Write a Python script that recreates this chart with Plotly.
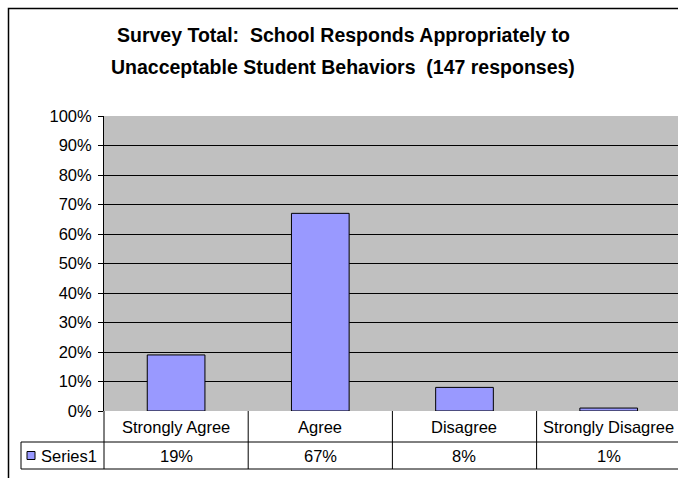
import plotly.graph_objects as go

categories = ["Strongly Agree", "Agree", "Disagree", "Strongly Disagree"]
values = [0.19, 0.67, 0.08, 0.01]
series_name = "Series1"
tick_vals = [0, 0.1, 0.2, 0.3, 0.4, 0.5, 0.6, 0.7, 0.8, 0.9, 1.0]
tick_text = ["0%", "10%", "20%", "30%", "40%", "50%", "60%", "70%", "80%", "90%", "100%"]
title_lines = ["Survey Total:  School Responds Appropriately to",
               "Unacceptable Student Behaviors  (147 responses)"]

W, H = 678, 478
L, R, T, B = 104, 0, 116, H - 411
PW = W - L - R
PH = H - T - B
COL_PX = 144.2  # width of one category column in pixels (plot area runs past the edge)
FONT = "Arial, 'Liberation Sans', sans-serif"
FS = 16.5


def px(x):
    return (x - L) / PW


def py(y):
    return (H - B - y) / PH


fig = go.Figure()
fig.add_trace(go.Bar(
    x=categories, y=values, name=series_name, width=0.4,
    marker=dict(color="#9999FF", line=dict(color="black", width=1)),
    showlegend=False,
))

shapes = []
annotations = []

# outer chart frame (right and bottom edges lie outside the visible page)
shapes.append(dict(type="rect", xref="paper", yref="paper",
                   x0=px(8.5), x1=px(720), y0=py(520), y1=py(8.5),
                   line=dict(color="black", width=1.5), layer="below"))

# data table geometry
n = len(categories)
bounds = [104 + i * COL_PX for i in range(n + 1)]
row1_top, row1_bot, row2_bot = 411, 442, 469
table_left = 21
line = dict(color="black", width=1)
for xb in bounds[:-1]:
    shapes.append(dict(type="line", xref="paper", yref="paper",
                       x0=px(xb), x1=px(xb), y0=py(row1_top), y1=py(row2_bot), line=line))
shapes.append(dict(type="line", xref="paper", yref="paper",
                   x0=px(table_left), x1=px(table_left), y0=py(row1_bot), y1=py(row2_bot), line=line))
for yb in (row1_bot, row2_bot):
    shapes.append(dict(type="line", xref="paper", yref="paper",
                       x0=px(table_left), x1=px(720), y0=py(yb), y1=py(yb), line=line))
# legend key
shapes.append(dict(type="rect", xref="paper", yref="paper",
                   x0=px(27), x1=px(35), y0=py(459.5), y1=py(451.5),
                   fillcolor="#9999FF", line=dict(color="black", width=1)))

for i, (c, v) in enumerate(zip(categories, values)):
    cx = (bounds[i] + bounds[i + 1]) / 2
    annotations.append(dict(xref="paper", yref="paper", x=px(cx), y=py((row1_top + row1_bot) / 2),
                            text=c, showarrow=False, xanchor="center", yanchor="middle",
                            font=dict(family=FONT, size=FS, color="black")))
    annotations.append(dict(xref="paper", yref="paper", x=px(cx), y=py((row1_bot + row2_bot) / 2),
                            text=f"{round(v * 100)}%", showarrow=False, xanchor="center", yanchor="middle",
                            font=dict(family=FONT, size=FS, color="black")))
annotations.append(dict(xref="paper", yref="paper", x=px(39), y=py((row1_bot + row2_bot) / 2),
                        text=series_name, showarrow=False, xanchor="left", yanchor="middle",
                        font=dict(family=FONT, size=FS, color="black")))

for ty, t in zip((35, 67), title_lines):
    annotations.append(dict(xref="paper", yref="paper", x=px(343), y=py(ty),
                            text=f"<b>{t}</b>", showarrow=False, xanchor="center", yanchor="middle",
                            font=dict(family=FONT, size=19.5, color="black")))

fig.update_layout(
    width=W, height=H,
    margin=dict(l=L, r=R, t=T, b=B),
    paper_bgcolor="white", plot_bgcolor="#C0C0C0",
    bargap=0.6,
    shapes=shapes, annotations=annotations,
    xaxis=dict(showticklabels=False, showgrid=False, zeroline=False, ticks="",
               range=[-0.5, -0.5 + PW / COL_PX], showline=False, fixedrange=True),
    yaxis=dict(range=[0, 1], tickvals=tick_vals, ticktext=tick_text,
               showgrid=True, gridcolor="black", gridwidth=1, zeroline=False,
               showline=True, linecolor="black", linewidth=1,
               ticks="outside", ticklen=5, tickcolor="black", ticklabelstandoff=3,
               tickfont=dict(family=FONT, size=FS, color="black"), fixedrange=True),
)

fig.write_html(
    "out.html",
    config={"displayModeBar": False},
    post_script="document.body.style.margin='0';document.body.style.overflow='hidden';",
)
